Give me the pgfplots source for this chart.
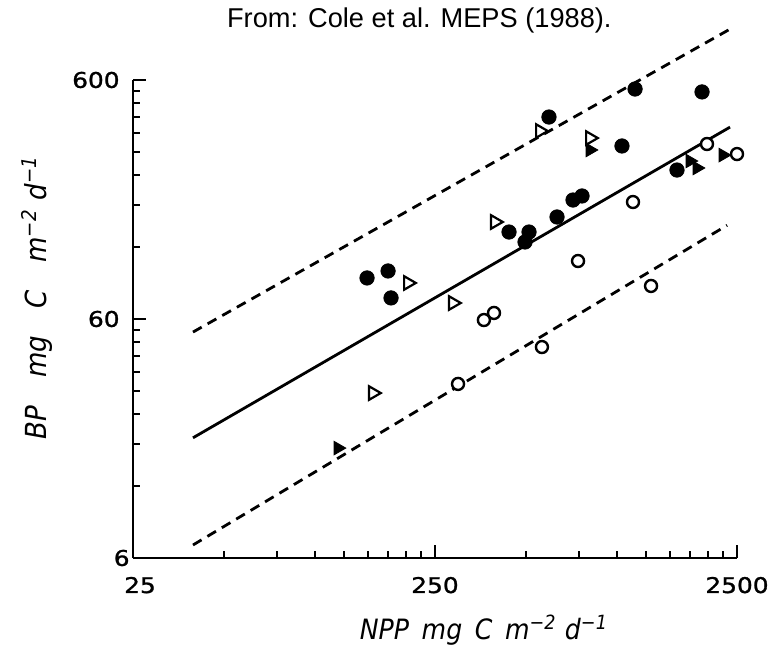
\documentclass[border=0pt]{standalone}
\usepackage{fontspec}
\setmainfont{Liberation Sans}
\newfontfamily\lettering[FakeStretch=1.15, FakeBold=1.2]{DejaVu Sans}
\newfontfamily\labelfont[FakeStretch=0.9]{DejaVu Sans}
\usepackage{pgfplots}
\pgfplotsset{compat=1.18}

\newcommand\unitlab[2]{#1\hspace{#2}mg\hspace{#2}C\hspace{#2}m\textsuperscript{−2}\hspace{0.3em}d\textsuperscript{−1}}

\begin{document}
\begin{tikzpicture}
\useasboundingbox (-66.5pt,-47pt) rectangle (323.5pt,279pt);
\begin{axis}[
    at={(0,0)}, anchor=south west,
    width=302pt, height=239pt, scale only axis,
    xmode=log, ymode=log,
    xmin=25, xmax=2500, ymin=6, ymax=600,
    enlargelimits=false,
    axis lines=left,
    axis line style={-, line width=1.4pt},
    xtick={25,250,2500},
    xticklabels={\hspace*{7pt}25, 250, 2500},
    ytick={6,60,600},
    yticklabels={6\hspace*{-5pt}, 60, 600},
    minor xtick={50,75,100,125,150,175,200,225,500,750,1000,1250,1500,1750,2000,2250},
    minor ytick={12,18,24,30,36,42,48,54,120,180,240,300,360,420,480,540},
    tick align=inside,
    major tick length=6.5pt, minor tick length=3.5pt,
    every tick/.style={black, line width=1.1pt},
    tick label style={font=\lettering\fontsize{10.8}{12}\selectfont},
    xticklabel style={anchor=base, yshift=-17.5pt},
    yticklabel style={anchor=east, inner sep=0pt, xshift=-6.5pt},
    title={From: Cole et al. MEPS (1988).},
    every axis title/.style={at={(axis description cs:0.474,1.125)}, anchor=center,
        font=\fontsize{13.6}{16}\selectfont},
    xlabel={\unitlab{NPP}{0.45em}},
    ylabel={\unitlab{BP}{0.95em}},
    every axis x label/.style={at={(axis description cs:0.581,0)}, anchor=center,
        yshift=-36pt, font=\labelfont\itshape\fontsize{14}{16}\selectfont},
    every axis y label/.style={at={(axis description cs:-0.159,0.545)}, anchor=center,
        rotate=90, font=\labelfont\itshape\fontsize{14.5}{16}\selectfont},
    clip=false,
    fc/.style={only marks, mark=*, mark size=3.6pt, mark options={fill=black, draw=black}},
    oc/.style={only marks, mark=*, mark size=3pt, mark options={fill=white, draw=black, line width=1.2pt}},
    ot/.style={only marks, mark=triangle*, mark size=3.9pt, mark options={fill=white, draw=black, line width=1.1pt, rotate=-90}},
    ft/.style={only marks, mark=triangle*, mark size=3.9pt, mark options={fill=black, draw=black, rotate=-90}},
]
% regression line and bounds
\addplot[black, line width=1.4pt] coordinates {(39.5,19.1) (2370,381)};
\addplot[black, line width=1.4pt, dash pattern=on 5pt off 3.4pt] coordinates {(39.5,52.9) (2405,990)};
\addplot[black, line width=1.4pt, dash pattern=on 5pt off 3.4pt] coordinates {(39.5,6.8) (2318,148)};

% filled circles
\addplot[fc] coordinates {
    (148.9,89.1) (174.8,95.3) (178.8,73.5) (439.6,138.7) (512,138.7)
    (496.6,126) (633.8,160.3) (716,188.8) (767,196.3) (596,420)
    (1149,550) (1915,534.8) (1040,317.7) (1582,252)
};
% open circles
\addplot[oc] coordinates {
    (363,59.4) (392,63.6) (298,32.1) (744,104.9) (565,45.8)
    (1989,323.9) (2500,294) (1131,185.2) (1298,82.5)
};
% open triangles
\addplot[ot] coordinates {
    (203.5,84.9) (286.7,70.0) (155.8,29.4) (395,152.8) (556.7,367) (815,343)
};
% filled triangles
\addplot[ft] coordinates {
    (815,305.7) (1746,274.9) (1843,257) (2247,291) (119.3,17.3)
};
\end{axis}
\end{tikzpicture}
\end{document}
